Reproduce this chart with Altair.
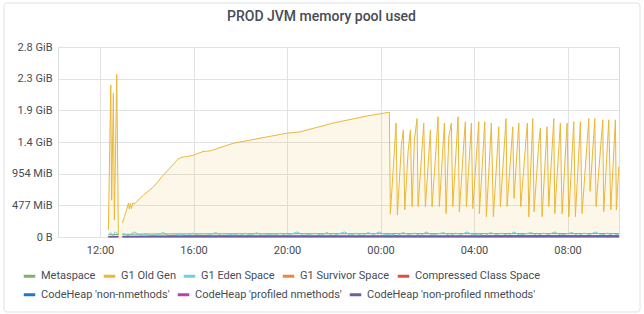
import json
import numpy as np
import pandas as pd
import altair as alt

SERIES = ["Metaspace", "G1 Old Gen", "G1 Eden Space", "G1 Survivor Space",
          "Compressed Class Space", "CodeHeap 'non-nmethods'",
          "CodeHeap 'profiled nmethods'", "CodeHeap 'non-profiled nmethods'"]
COLORS = ["#7EB26D", "#EAB839", "#6ED0E0", "#EF843C", "#E24D42",
          "#1F78C1", "#BA43A9", "#705DA0"]

# y values are in GB (1e9 bytes)
Y_TICKS = [0, 0.5, 1.0, 1.5, 2.0, 2.5, 3.0]
Y_LABELS = ["0 B", "477 MiB", "954 MiB", "1.4 GiB", "1.9 GiB", "2.3 GiB", "2.8 GiB"]
X_TICK_HOURS = [12, 16, 20, 24, 28, 32]

# times are hours since midnight of the first day
OLD_T1 = [12.355, 12.458, 12.496, 12.569, 12.612, 12.714, 12.783]
OLD_V1 = [0.11, 2.40, 0.58, 2.27, 0.27, 2.57, 0.03]

OLD_T2 = [12.954, 13.040, 13.112, 13.211, 13.253, 13.296, 13.339, 13.399, 13.455, 13.570,
          13.852, 14.280, 14.640, 14.995, 15.337, 15.508, 15.709, 15.979, 16.406, 16.706,
          17.703, 19.132, 20.013, 20.556, 21.981, 23.410, 24.377,
          24.419, 24.663, 24.719, 24.890, 24.976, 25.035, 25.177, 25.275, 25.348, 25.446,
          25.562, 25.604, 25.848, 25.917, 26.131, 26.203, 26.387, 26.460, 26.516, 26.730,
          26.802, 26.918, 27.029, 27.089, 27.316, 27.371, 27.559, 27.628, 27.671, 27.885,
          27.945, 28.201, 28.227, 28.458, 28.527, 28.740, 28.826, 29.057, 29.125, 29.369,
          29.412, 29.596, 29.656, 29.711, 29.913, 29.998, 30.225, 30.280, 30.340, 30.511,
          30.567, 30.768, 30.837, 30.909, 31.123, 31.196, 31.410, 31.453, 31.692, 31.765,
          31.979, 32.052, 32.265, 32.334, 32.548, 32.620, 32.907, 32.963, 33.164, 33.219,
          33.446, 33.506, 33.549, 33.763, 33.849, 34.045, 34.088, 34.191]
OLD_V2 = [0.22, 0.32, 0.40, 0.53, 0.44, 0.53, 0.45, 0.54, 0.52, 0.56,
          0.66, 0.79, 0.95, 1.09, 1.23, 1.26, 1.27, 1.29, 1.35, 1.36,
          1.48, 1.58, 1.64, 1.66, 1.80, 1.91, 1.97,
          0.36, 1.80, 0.35, 1.45, 1.69, 0.43, 1.35, 1.69, 0.48, 1.53,
          1.87, 0.48, 1.80, 0.48, 1.69, 0.48, 1.48, 1.90, 0.48, 1.80,
          0.37, 1.58, 1.80, 0.48, 1.90, 0.40, 1.48, 1.82, 0.48, 1.80,
          0.45, 1.82, 0.37, 1.82, 0.32, 1.80, 0.32, 1.74, 0.48, 1.87,
          0.48, 1.43, 1.74, 0.61, 1.80, 0.48, 1.56, 1.80, 0.32, 1.87,
          0.40, 1.48, 1.72, 0.32, 1.74, 0.48, 1.87, 0.37, 1.80, 0.37,
          1.80, 0.32, 1.82, 0.32, 1.82, 0.37, 1.87, 0.72, 1.87, 0.48,
          1.58, 1.85, 0.40, 1.85, 0.43, 1.85, 0.43, 1.11]

EDEN_T1 = [12.36, 12.45, 12.55, 12.65, 12.78]
EDEN_V1 = [0.03, 0.07, 0.02, 0.08, 0.04]
EDEN_V2 = [0.06, 0.02, 0.08, 0.03, 0.05, 0.02, 0.04, 0.07, 0.02, 0.03,
           0.05, 0.02, 0.06, 0.03, 0.02, 0.04, 0.07, 0.02, 0.03, 0.05,
           0.02, 0.06, 0.03, 0.07, 0.02, 0.04, 0.03, 0.06, 0.02, 0.05,
           0.08, 0.02, 0.04, 0.06, 0.03, 0.07, 0.02, 0.05, 0.08, 0.03,
           0.06, 0.02, 0.07, 0.04, 0.08, 0.03, 0.05, 0.02, 0.07, 0.04,
           0.06, 0.02, 0.08, 0.03, 0.05, 0.07, 0.02, 0.06, 0.04, 0.08,
           0.03, 0.05, 0.02, 0.07, 0.04, 0.06, 0.02, 0.08, 0.03, 0.05,
           0.07, 0.02, 0.06, 0.04, 0.08, 0.03, 0.05, 0.07, 0.02, 0.06,
           0.04, 0.08, 0.03, 0.06, 0.02, 0.05]
EDEN_T2 = list(np.linspace(12.96, 34.2, len(EDEN_V2)))

SMALL_T1 = [12.36, 12.78]
SMALL_T2 = [12.96, 14.0, 16.0, 20.0, 24.0, 28.0, 34.2]
META_V1 = [0.036, 0.040]
META_V2 = [0.042, 0.047, 0.050, 0.052, 0.053, 0.054, 0.055]
SURV_V1 = [0.004, 0.006]
SURV_V2 = [0.006, 0.005, 0.006, 0.005, 0.006, 0.005, 0.006]
CCS_V1 = [0.006, 0.007]
CCS_V2 = [0.007, 0.007, 0.007, 0.008, 0.008, 0.008, 0.008]
NONM_V1 = [0.003, 0.003]
NONM_V2 = [0.003, 0.003, 0.003, 0.003, 0.003, 0.003, 0.003]
PROF_V1 = [0.008, 0.012]
PROF_V2 = [0.012, 0.016, 0.018, 0.019, 0.020, 0.020, 0.021]
NONP_V1 = [0.004, 0.006]
NONP_V2 = [0.006, 0.008, 0.009, 0.010, 0.011, 0.011, 0.012]

BASE = pd.Timestamp("2021-06-15")


def frame(series, t1, v1, t2, v2):
    parts = []
    for seg, (t, v) in enumerate([(t1, v1), (t2, v2)]):
        parts.append(pd.DataFrame({
            "t": BASE + pd.to_timedelta(np.asarray(t, dtype=float), unit="h"),
            "v": v, "series": series, "seg": seg}))
    return pd.concat(parts)


df = pd.concat([
    frame("G1 Old Gen", OLD_T1, OLD_V1, OLD_T2, OLD_V2),
    frame("Metaspace", SMALL_T1, META_V1, SMALL_T2, META_V2),
    frame("G1 Eden Space", EDEN_T1, EDEN_V1, EDEN_T2, EDEN_V2),
    frame("G1 Survivor Space", SMALL_T1, SURV_V1, SMALL_T2, SURV_V2),
    frame("Compressed Class Space", SMALL_T1, CCS_V1, SMALL_T2, CCS_V2),
    frame("CodeHeap 'non-nmethods'", SMALL_T1, NONM_V1, SMALL_T2, NONM_V2),
    frame("CodeHeap 'profiled nmethods'", SMALL_T1, PROF_V1, SMALL_T2, PROF_V2),
    frame("CodeHeap 'non-profiled nmethods'", SMALL_T1, NONP_V1, SMALL_T2, NONP_V2),
], ignore_index=True)
df["t"] = df["t"].dt.strftime("%Y-%m-%dT%H:%M:%S")


def dt(h):
    d = 15 + int(h // 24)
    hh = h % 24
    return alt.DateTime(year=2021, month=6, date=d, hours=int(hh), minutes=int(round((hh % 1) * 60)))


TEXT = "#464c54"
GRID = "#e2e2e2"
FONT = "Roboto"

x_enc = alt.X("t:T",
              scale=alt.Scale(domain=[dt(10.2), dt(34.2)]),
              axis=alt.Axis(values=[dt(h) for h in X_TICK_HOURS], format="%H:%M",
                            ticks=False, domain=False, labelPadding=7, title=None,
                            gridColor=GRID, labelColor=TEXT, labelFontSize=11, labelFont=FONT))
y_enc = alt.Y("v:Q",
              scale=alt.Scale(domain=[0, 3.0], nice=False),
              axis=alt.Axis(values=Y_TICKS,
                            labelExpr=f"{json.dumps(Y_LABELS)}[indexof({json.dumps(Y_TICKS)}, datum.value)]",
                            ticks=False, domain=False, labelPadding=6, title=None,
                            gridColor=GRID, labelColor=TEXT, labelFontSize=11, labelFont=FONT))


def legend(y):
    return alt.Legend(orient="none", legendX=-36, legendY=y, direction="horizontal",
                      title=None, symbolType="stroke", symbolSize=132,
                      symbolStrokeWidth=3, labelFontSize=11, labelFont=FONT,
                      labelColor=TEXT, labelOffset=4, columnPadding=1, labelLimit=400)


base = alt.Chart(df)

area = base.transform_filter(alt.datum.series == "G1 Old Gen").mark_area(
    color="#EAB839", opacity=0.11).encode(x=x_enc, y=y_enc, detail="seg:N")

ROW1, ROW2 = SERIES[:5], SERIES[5:]
lines1 = base.transform_filter(alt.FieldOneOfPredicate(field="series", oneOf=ROW1)).mark_line(
    strokeWidth=1).encode(
    x=x_enc, y=y_enc,
    color=alt.Color("series:N", scale=alt.Scale(domain=ROW1, range=COLORS[:5]),
                    legend=legend(221.5)),
    detail="seg:N")
lines2 = base.transform_filter(alt.FieldOneOfPredicate(field="series", oneOf=ROW2)).mark_line(
    strokeWidth=1.2).encode(
    x=x_enc, y=y_enc,
    color=alt.Color("series:N", scale=alt.Scale(domain=ROW2, range=COLORS[5:]),
                    legend=legend(240)),
    detail="seg:N")

border = alt.Chart(pd.DataFrame({"k": [0]})).mark_rect(
    fill="transparent", stroke="#dde1e6", strokeWidth=1, cornerRadius=3).encode(
    x=alt.value(-54), x2=alt.value(582), y=alt.value(-44), y2=alt.value(265))

chart = alt.layer(border, area, lines1, lines2).resolve_scale(color="independent").properties(
    width=561, height=190,
    title=alt.Title("PROD JVM memory pool used", fontSize=14, fontWeight=500, font=FONT,
                    color=TEXT, offset=0, dy=21, dx=-17),
    padding={"left": 58, "top": 47, "right": 25, "bottom": 77},
    autosize=alt.AutoSizeParams(type="none"),
).configure_view(stroke=None).configure(background="white")

chart.save("out.html", embed_options={"renderer": "svg", "actions": False})
